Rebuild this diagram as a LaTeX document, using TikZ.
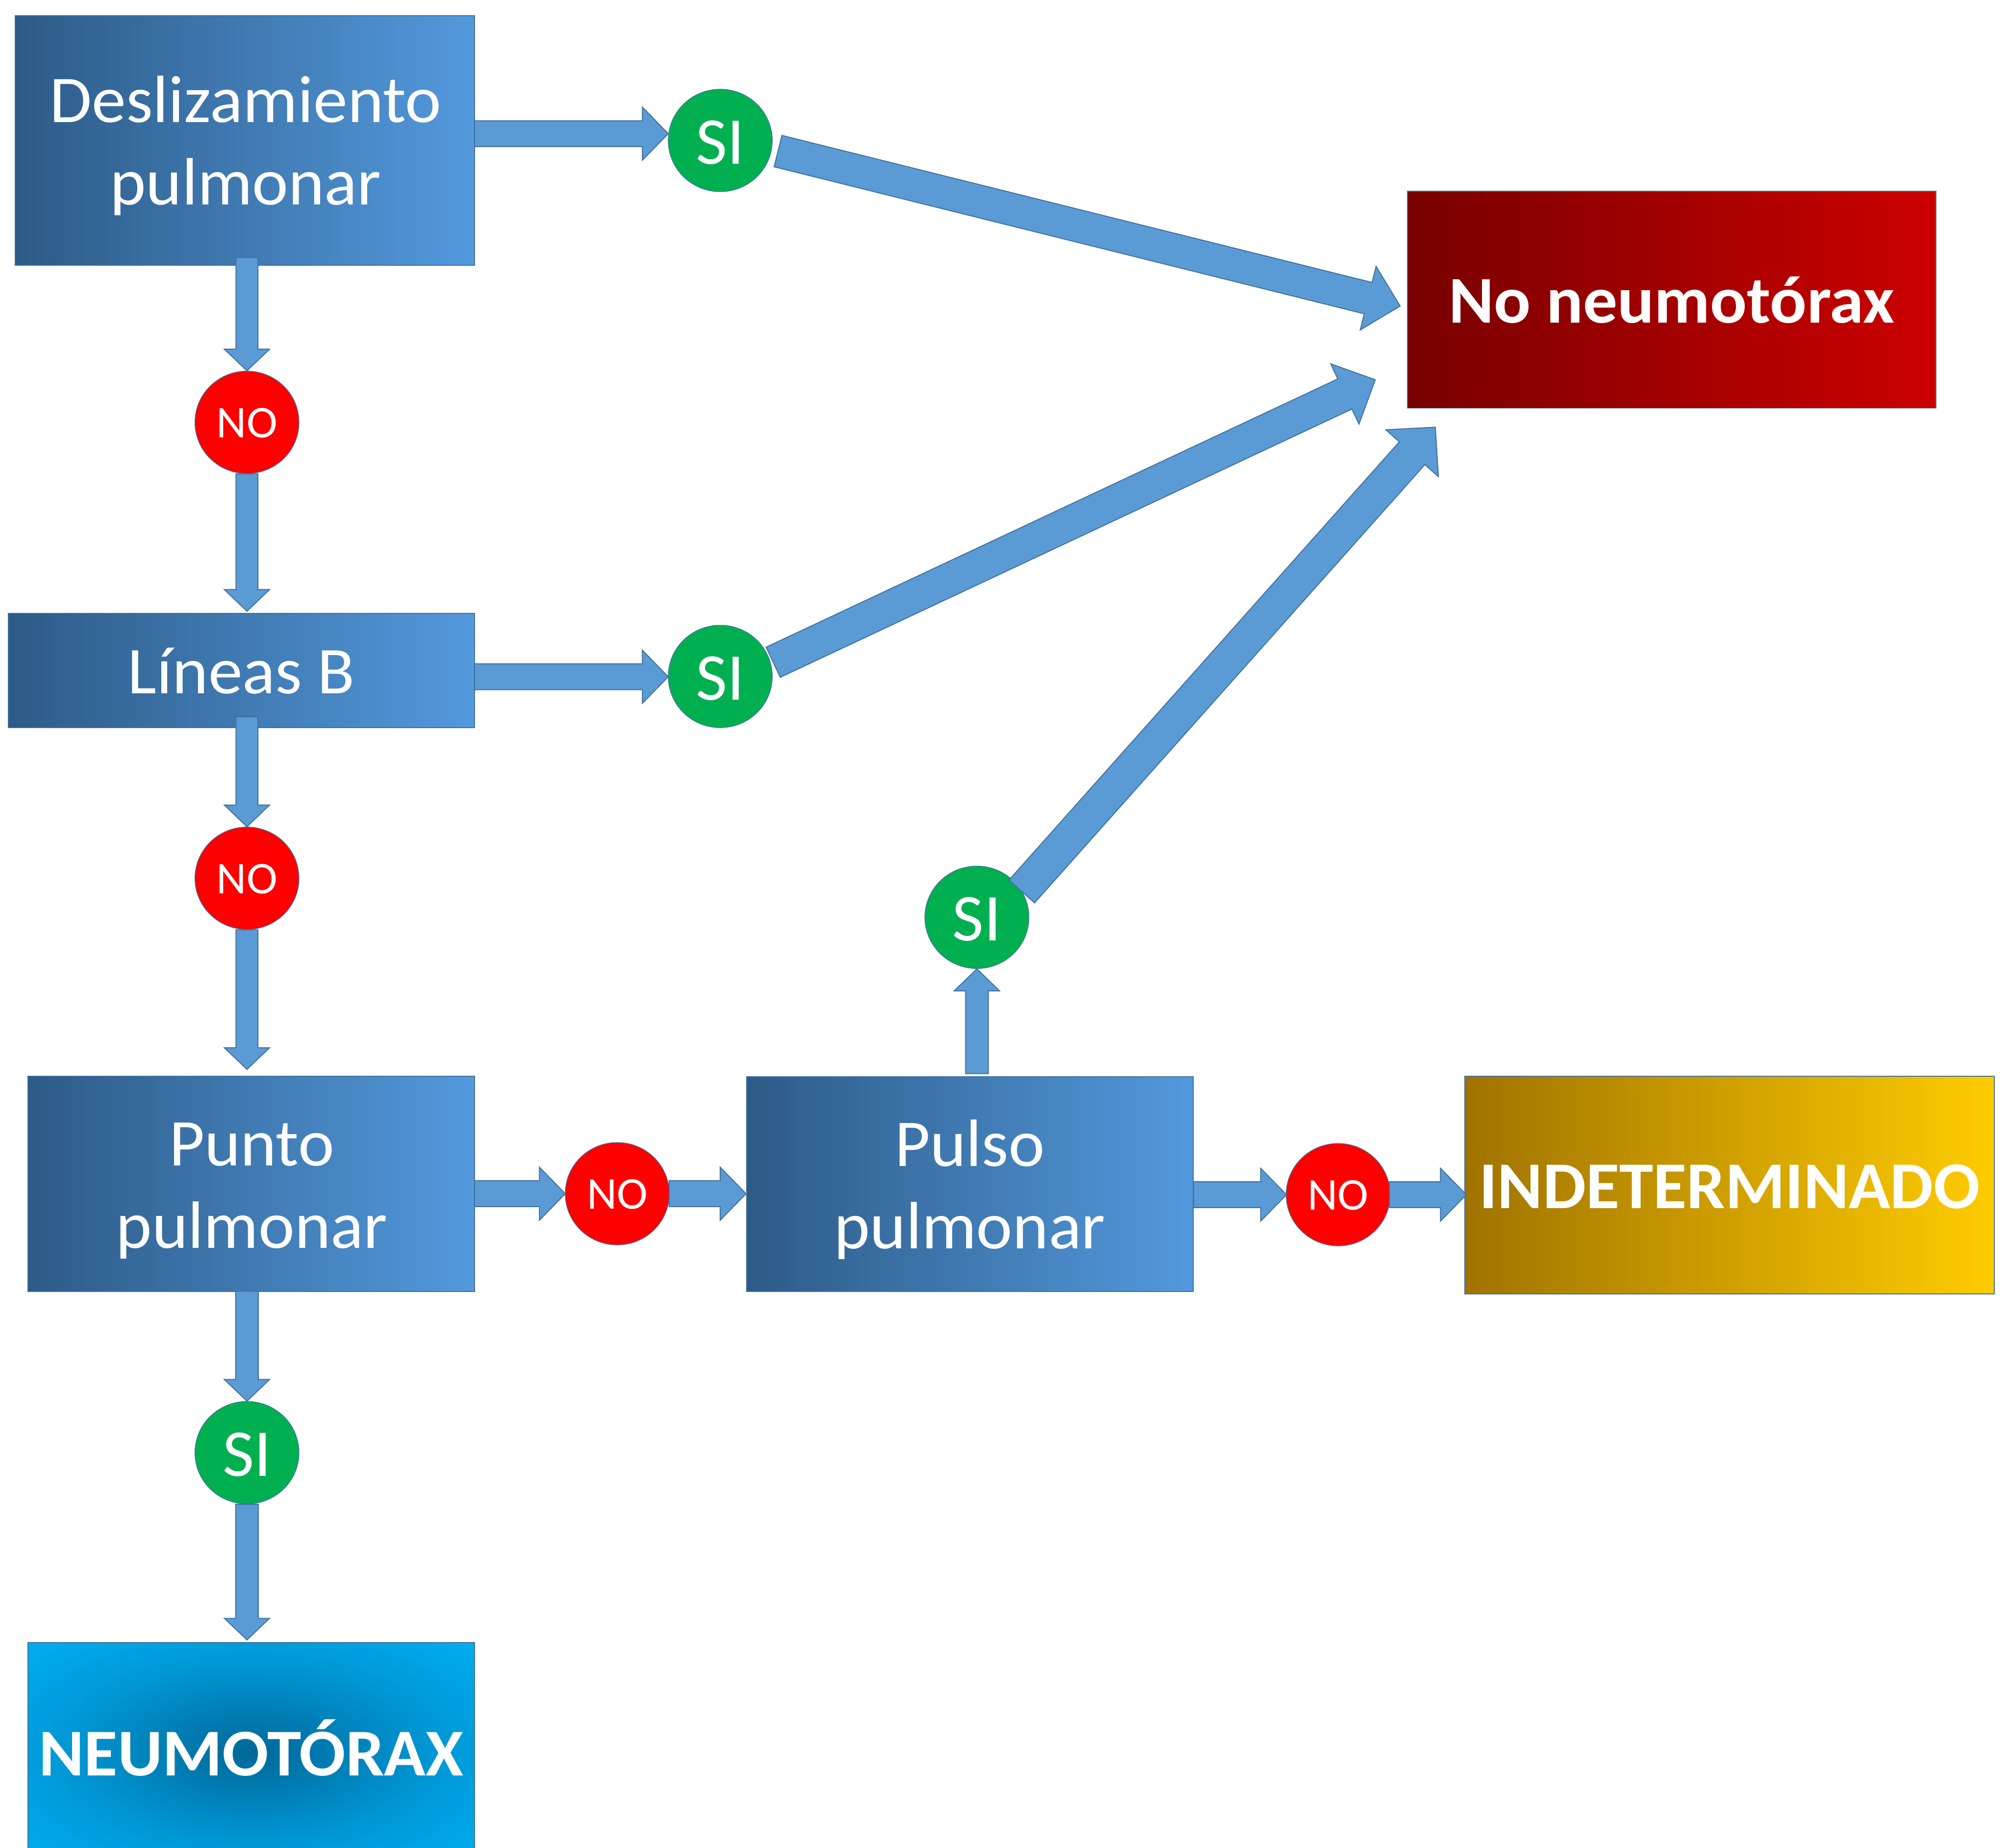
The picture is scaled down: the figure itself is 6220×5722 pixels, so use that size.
\documentclass[tikz,border=0pt]{standalone}
\usepackage{fontspec}
\setmainfont{Carlito}[FakeStretch=1.025]
\usetikzlibrary{calc,shapes.geometric}
\definecolor{arrowfill}{HTML}{5B9BD5}
\definecolor{arrowedge}{HTML}{41719C}
\definecolor{boxdark}{RGB}{45,91,135}
\definecolor{boxlight}{RGB}{83,153,221}
\definecolor{reddark}{RGB}{120,0,0}
\definecolor{redlight}{RGB}{204,0,0}
\definecolor{golddark}{RGB}{160,115,0}
\definecolor{goldlight}{RGB}{255,204,0}
\definecolor{neuin}{RGB}{0,104,152}
\definecolor{neumid}{RGB}{0,150,212}
\definecolor{neuout}{RGB}{0,182,250}
\definecolor{sigreen}{HTML}{00B050}
\definecolor{nored}{HTML}{FF0000}
\pgfdeclareradialshading{neushade}{\pgfpoint{0bp}{0bp}}{color(0bp)=(neuin); color(20bp)=(neumid); color(40bp)=(neuout); color(100bp)=(neuout)}
\newcommand{\bigfont}{\fontsize{58.9pt}{72.5pt}\selectfont}
\newcommand{\nofont}{\fontsize{40pt}{48pt}\selectfont}
\newcommand{\blockarrow}[5]{%
  \coordinate (banotch) at ($(#2)!#5!(#1)$);
  \filldraw[blockarrowstyle] ($(#1)!#3!90:(#2)$) -- ($(banotch)!#3!90:(#2)$) -- ($(banotch)!#4!90:(#2)$) -- (#2) -- ($(banotch)!#4!-90:(#2)$) -- ($(banotch)!#3!-90:(#2)$) -- ($(#1)!#3!-90:(#2)$) -- cycle;
}
\tikzset{
  boxbase/.style={rectangle, draw=arrowedge, line width=0.03cm, inner sep=0pt, text=white},
  bluebox/.style={boxbase, left color=boxdark, right color=boxlight},
  lbl/.style={text=white, font=\bigfont, inner sep=0pt},
  singlelbl/.style={font=\bigfont, text height=1.43cm, text depth=0cm},
  boldlbl/.style={font=\bigfont\bfseries, text height=1.43cm, text depth=0cm},
  yesnode/.style={ellipse, draw=arrowedge, line width=0.02cm, fill=sigreen, minimum width=3.22cm, minimum height=3.17cm, inner sep=0pt, text=white, font=\bigfont, text height=1.46cm, text depth=0cm},
  nonode/.style={ellipse, draw=arrowedge, line width=0.02cm, fill=nored, minimum width=3.22cm, minimum height=3.17cm, inner sep=0pt, text=white, font=\nofont, text height=0.94cm, text depth=0cm},
  blockarrowstyle/.style={fill=arrowfill, draw=arrowedge, line width=0.03cm, line join=miter},
}
\begin{document}
\begin{tikzpicture}[x=0.01cm, y=-0.01cm]
\useasboundingbox (0,0) rectangle (6220,5722);
\fill[white] (0,0) rectangle (6220,5722);

% boxes
\node[bluebox, minimum width=14.22cm, minimum height=7.72cm] (b1) at (759,435) {};
\node[bluebox, minimum width=14.44cm, minimum height=3.54cm, singlelbl] (b2) at (748,2077) {Líneas B};
\node[bluebox, minimum width=13.83cm, minimum height=6.67cm] (b3) at (778.5,3666.5) {};
\node[bluebox, minimum width=13.82cm, minimum height=6.65cm] (b4) at (3004,3667.5) {};
\node[boxbase, left color=reddark, right color=redlight, minimum width=16.36cm, minimum height=6.72cm, boldlbl] (nn) at (5178,928) {No neumotórax};
\node[boxbase, left color=golddark, right color=goldlight, minimum width=16.39cm, minimum height=6.73cm, boldlbl] (ind) at (5357.5,3670.5) {INDETERMINADO};
\node[boxbase, shading=neushade, minimum width=13.83cm, minimum height=6.82cm, boldlbl] (neu) at (778.5,5428) {NEUMOTÓRAX};

% two-line labels
\node[lbl, anchor=base] (t1a) at (761,379) {Deslizamiento};
\node[lbl, anchor=base] (t1b) at (761,634) {pulmonar};
\node[lbl, anchor=base] (t3a) at (780,3610.5) {Punto};
\node[lbl, anchor=base] (t3b) at (780,3865.5) {pulmonar};
\node[lbl, anchor=base] (t4a) at (3004,3611.5) {Pulso};
\node[lbl, anchor=base] (t4b) at (3004,3866.5) {pulmonar};

% decision circles
\node[yesnode] (si1) at (2231,435) {SI};
\node[yesnode] (si2) at (2231,2095) {SI};
\node[yesnode] (si3) at (765,4499) {SI};
\node[yesnode] (si4) at (3026,2841) {SI};
\node[nonode] (no1) at (765,1308) {NO};
\node[nonode] (no2) at (765,2720) {NO};
\node[nonode] (no4) at (1912,3697) {NO};
\node[nonode] (no5) at (4145,3700) {NO};

% arrow end points
\coordinate (h1s) at (1470,414);  \coordinate (h1t) at (2070,414);
\coordinate (h2s) at (1470,2096); \coordinate (h2t) at (2070,2096);
\coordinate (h3s) at (1470,3697); \coordinate (h3t) at (1751,3697);
\coordinate (h4s) at (2073,3697); \coordinate (h4t) at (2311,3697);
\coordinate (h5s) at (3697,3700); \coordinate (h5t) at (3985,3700);
\coordinate (h6s) at (4304,3700); \coordinate (h6t) at (4542,3700);
\coordinate (v1s) at (765,798);   \coordinate (v2t) at (765,1893);
\coordinate (v3s) at (765,2220);  \coordinate (v4t) at (765,3312);
\coordinate (v5s) at (765,3999);  \coordinate (v6t) at (765,5079);
\coordinate (v7s) at (3026,3325);
\coordinate (d1s) at (2410,468);  \coordinate (d1t) at (4337,948);
\coordinate (d2s) at (2395,2051); \coordinate (d2t) at (4260,1176);
\coordinate (d3s) at (3165,2761); \coordinate (d3t) at (4446,1323);

% horizontal arrows
\blockarrow{h1s}{h1t}{0.40cm}{0.82cm}{0.80cm}
\blockarrow{h2s}{h2t}{0.40cm}{0.82cm}{0.80cm}
\blockarrow{h3s}{h3t}{0.40cm}{0.82cm}{0.80cm}
\blockarrow{h4s}{h4t}{0.40cm}{0.82cm}{0.80cm}
\blockarrow{h5s}{h5t}{0.40cm}{0.82cm}{0.80cm}
\blockarrow{h6s}{h6t}{0.40cm}{0.82cm}{0.80cm}
% vertical arrows
\blockarrow{v1s}{no1.north}{0.34cm}{0.70cm}{0.67cm}
\blockarrow{no1.south}{v2t}{0.34cm}{0.70cm}{0.67cm}
\blockarrow{v3s}{no2.north}{0.34cm}{0.70cm}{0.67cm}
\blockarrow{no2.south}{v4t}{0.34cm}{0.70cm}{0.67cm}
\blockarrow{v5s}{si3.north}{0.35cm}{0.70cm}{0.67cm}
\blockarrow{si3.south}{v6t}{0.35cm}{0.70cm}{0.67cm}
\blockarrow{v7s}{si4.south}{0.35cm}{0.70cm}{0.68cm}
% diagonal arrows
\blockarrow{d1s}{d1t}{0.50cm}{1.015cm}{1.02cm}
\blockarrow{d2s}{d2t}{0.515cm}{1.03cm}{1.04cm}
\blockarrow{d3s}{d3t}{0.53cm}{1.09cm}{1.08cm}
\end{tikzpicture}
\end{document}
